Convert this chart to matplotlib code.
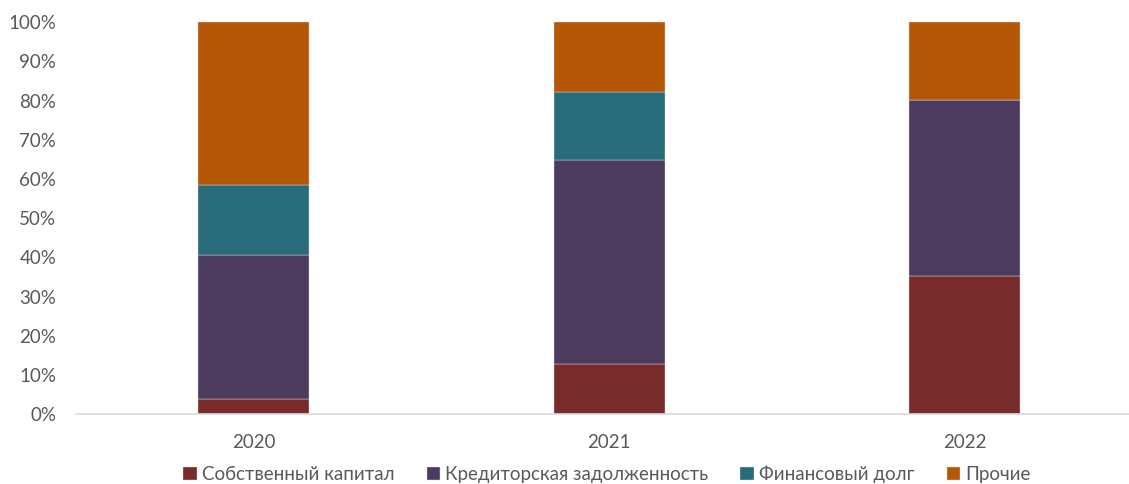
import matplotlib.pyplot as plt
import numpy as np

years = ["2020", "2021", "2022"]
equity = [3.8, 12.9, 35.2]
payables = [36.9, 52.0, 45.0]
fin_debt = [17.7, 17.2, 0.0]
other = [41.6, 17.9, 19.8]

labels = ["Собственный капитал", "Кредиторская задолженность", "Финансовый долг", "Прочие"]
colors = ["#772B2A", "#4D3B5F", "#286B7A", "#B65706"]

plt.rcParams["font.family"] = ["Lato", "DejaVu Sans"]

fig = plt.figure(figsize=(11.29, 4.84), dpi=100)
ax = fig.add_axes([75.6 / 1129, 69.7 / 484, (1129 - 75.6) / 1129, (414.3 - 22.3) / 484])

x = np.arange(len(years))
bottom = np.zeros(len(years))
for vals, lab, col in zip([equity, payables, fin_debt, other], labels, colors):
    ax.bar(x, vals, 0.312, bottom=bottom, color=col, label=lab, edgecolor="#D9D9D9", linewidth=0.3)
    bottom += np.array(vals)

ax.set_xlim(-0.5, (1129 - 253.5) / 355.7)
ax.set_ylim(0, 100)
ax.set_yticks(range(0, 101, 10))
ax.set_yticklabels([f"{v}%" for v in range(0, 101, 10)])
ax.set_xticks(x)
ax.set_xticklabels(years)
ax.tick_params(axis="both", length=0, labelsize=13.5, colors="#595959")
ax.tick_params(axis="x", pad=14)
ax.tick_params(axis="y", pad=14)
for s in ["top", "right", "left"]:
    ax.spines[s].set_visible(False)
ax.spines["bottom"].set_color("#D9D9D9")
ax.spines["bottom"].set_linewidth(1.2)

leg = fig.legend(loc="center", bbox_to_anchor=(607 / 1129, 1 - 474 / 484), ncol=4, frameon=False,
                 fontsize=13.5, handlelength=0.7, handleheight=0.7, handletextpad=0.3, columnspacing=1.7)
for t in leg.get_texts():
    t.set_color("#595959")

fig.savefig("out.png", dpi=100)
